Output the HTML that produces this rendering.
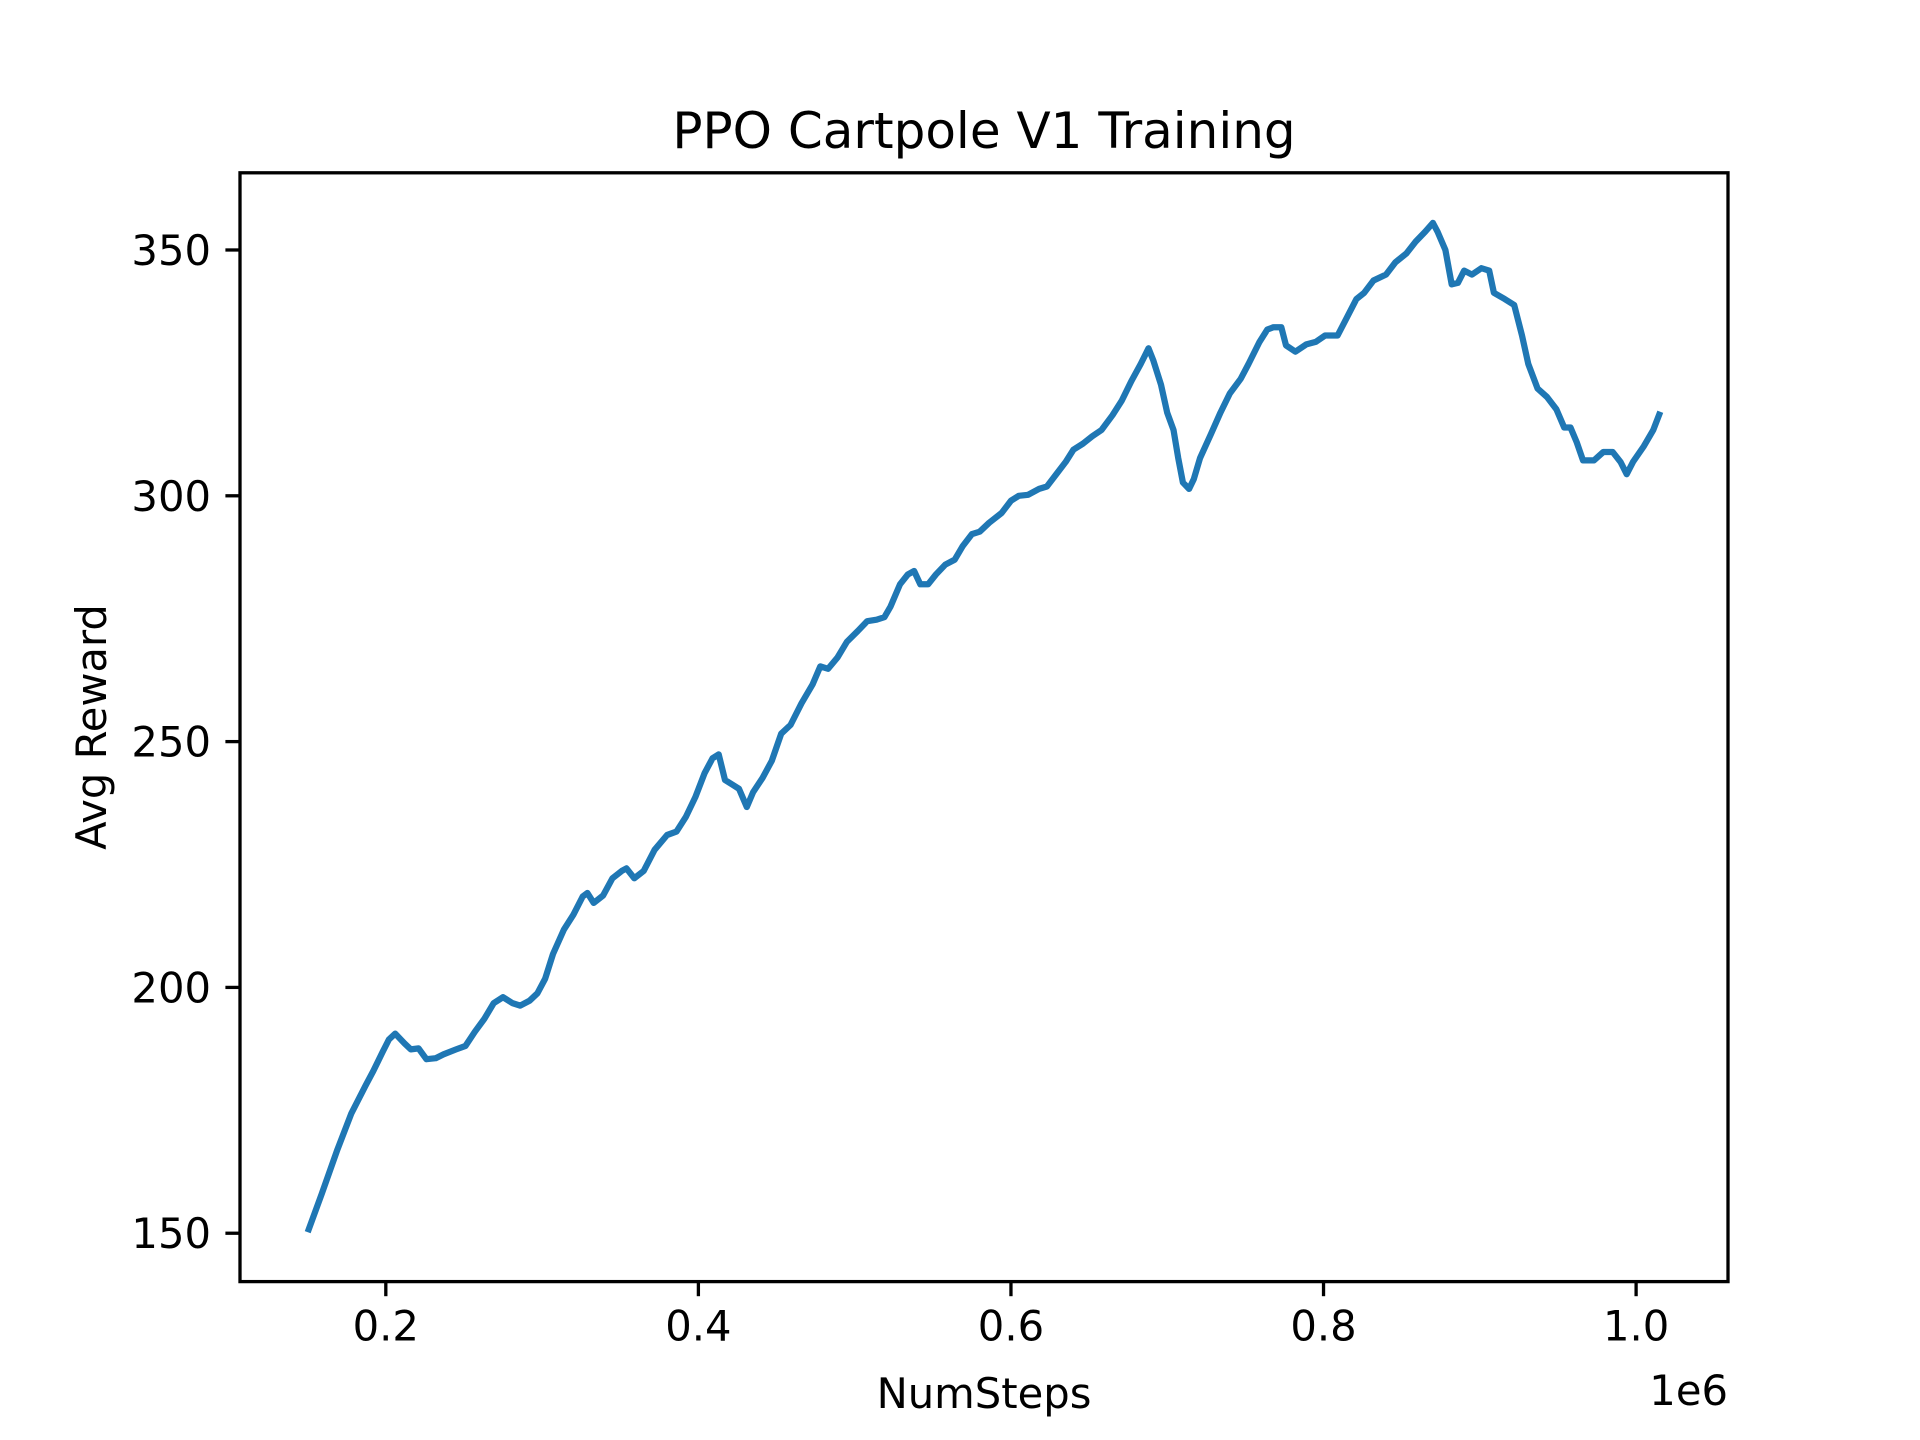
<!DOCTYPE html>
<html><head><meta charset="utf-8"><style>
html,body{margin:0;padding:0;background:#fff;}
svg{display:block;font-family:"DejaVu Sans","Liberation Sans",sans-serif;}
</style></head><body>
<svg id="chart" width="1920" height="1440" viewBox="0 0 1920 1440" xmlns="http://www.w3.org/2000/svg">
<rect width="1920" height="1440" fill="#fff"/>
<text x="984" y="148" font-size="50" text-anchor="middle">PPO Cartpole V1 Training</text>
<text x="984" y="1408" font-size="41.7" text-anchor="middle">NumSteps</text>
<text x="1728" y="1405" font-size="41.7" text-anchor="end">1e6</text>
<text transform="translate(106,727) rotate(-90)" font-size="41.7" text-anchor="middle">Avg Reward</text>
<g id="ticks"></g>
<g id="series"></g>
<rect x="240" y="172.8" width="1488" height="1108.8" fill="none" stroke="#000" stroke-width="3.3"/>
</svg>
<script>
const xTicks = [0.2, 0.4, 0.6, 0.8, 1.0];
const xTickLabels = ["0.2", "0.4", "0.6", "0.8", "1.0"];
const yTicks = [150, 200, 250, 300, 350];
const yTickLabels = ["150", "200", "250", "300", "350"];
const steps = [0.150,0.159,0.169,0.178,0.187,0.192,0.198,0.202,0.206,0.212,0.216,0.221,0.226,0.232,0.237,0.245,0.251,0.257,0.263,0.269,0.275,0.281,0.286,0.292,0.297,0.302,0.307,0.314,0.320,0.326,0.329,0.333,0.339,0.345,0.351,0.354,0.359,0.365,0.372,0.380,0.386,0.392,0.398,0.404,0.409,0.413,0.417,0.422,0.426,0.431,0.435,0.441,0.447,0.453,0.459,0.466,0.473,0.478,0.483,0.489,0.495,0.502,0.508,0.514,0.519,0.523,0.529,0.534,0.538,0.542,0.547,0.552,0.558,0.564,0.569,0.575,0.580,0.586,0.594,0.600,0.605,0.611,0.618,0.623,0.629,0.635,0.640,0.646,0.652,0.658,0.665,0.671,0.677,0.683,0.688,0.691,0.696,0.700,0.704,0.707,0.710,0.714,0.717,0.721,0.728,0.734,0.740,0.747,0.752,0.759,0.764,0.768,0.773,0.776,0.782,0.789,0.795,0.801,0.809,0.815,0.821,0.826,0.832,0.840,0.846,0.853,0.859,0.865,0.870,0.873,0.878,0.882,0.886,0.890,0.895,0.901,0.906,0.909,0.916,0.922,0.927,0.931,0.937,0.943,0.949,0.954,0.958,0.962,0.966,0.973,0.979,0.985,0.990,0.994,0.998,1.005,1.011,1.0155];
const rewards = [150.2,158,167,174.4,180,183,186.9,189.4,190.6,188.6,187.4,187.6,185.4,185.6,186.4,187.4,188.1,191,193.6,196.8,198,196.8,196.3,197.3,198.8,201.8,206.8,211.8,214.8,218.5,219.2,217.2,218.7,222.2,223.7,224.2,222.2,223.7,228,231,231.7,234.7,238.7,243.6,246.6,247.4,242.2,241.2,240.4,236.7,239.7,242.6,246.1,251.6,253.4,257.8,261.6,265.3,264.8,267.1,270.3,272.5,274.5,274.8,275.3,277.5,282,284,284.7,282,282,284,286,287,289.7,292.2,292.7,294.5,296.5,299,300,300.2,301.4,301.9,304.4,306.9,309.4,310.6,312.1,313.4,316.4,319.4,323.3,326.8,330,327.6,322.6,316.9,313.4,307.7,302.7,301.4,303.4,307.7,312.6,316.9,320.8,323.8,326.8,331.3,333.8,334.3,334.3,330.6,329.3,330.8,331.3,332.6,332.6,336.3,340,341.3,343.8,345,347.5,349.3,351.7,353.7,355.5,353.7,350,343,343.3,345.8,345,346.3,345.8,341.3,340,338.8,332.6,326.8,321.8,320.1,317.6,313.9,313.9,310.9,307.2,307.2,308.9,308.9,306.9,304.4,306.9,310.1,313.4,317.1];

const L=240,R=1728,T=172.8,B=1281.6;
const xMin=0.1067,xMax=1.0588,yMin=140.16,yMax=365.7;
function xs(v){return L+(v-xMin)/(xMax-xMin)*(R-L);}
function ys(v){return B-(v-yMin)/(yMax-yMin)*(B-T);}
const NS="http://www.w3.org/2000/svg";
const tg=document.getElementById('ticks');
xTicks.forEach((t,i)=>{
  const l=document.createElementNS(NS,'line');
  l.setAttribute('x1',xs(t));l.setAttribute('x2',xs(t));l.setAttribute('y1',B);l.setAttribute('y2',B+14.6);
  l.setAttribute('stroke','#000');l.setAttribute('stroke-width','3.3');
  
  
  tg.appendChild(l);
  const tx=document.createElementNS(NS,'text');
  tx.setAttribute('x',xs(t));tx.setAttribute('y',B+59);tx.setAttribute('font-size','41.7');tx.setAttribute('text-anchor','middle');
  tx.textContent=xTickLabels[i];
  
  
  tg.appendChild(tx);
});
yTicks.forEach((t,i)=>{
  const l=document.createElementNS(NS,'line');
  l.setAttribute('x1',L-14.6);l.setAttribute('x2',L);l.setAttribute('y1',ys(t));l.setAttribute('y2',ys(t));
  l.setAttribute('stroke','#000');l.setAttribute('stroke-width','3.3');
  
  
  tg.appendChild(l);
  const tx=document.createElementNS(NS,'text');
  tx.setAttribute('x',L-29);tx.setAttribute('y',ys(t)+15);tx.setAttribute('font-size','41.7');tx.setAttribute('text-anchor','end');
  tx.textContent=yTickLabels[i];
  
  
  tg.appendChild(tx);
});
const p=document.createElementNS(NS,'path');
p.setAttribute('d',steps.map((s,i)=>(i?'L':'M')+xs(s).toFixed(1)+' '+ys(rewards[i]).toFixed(1)).join(' '));
p.setAttribute('fill','none');p.setAttribute('stroke','#1f77b4');p.setAttribute('stroke-width','6.25');
p.setAttribute('stroke-linejoin','round');


document.getElementById('series').appendChild(p);
</script>
</body></html>
